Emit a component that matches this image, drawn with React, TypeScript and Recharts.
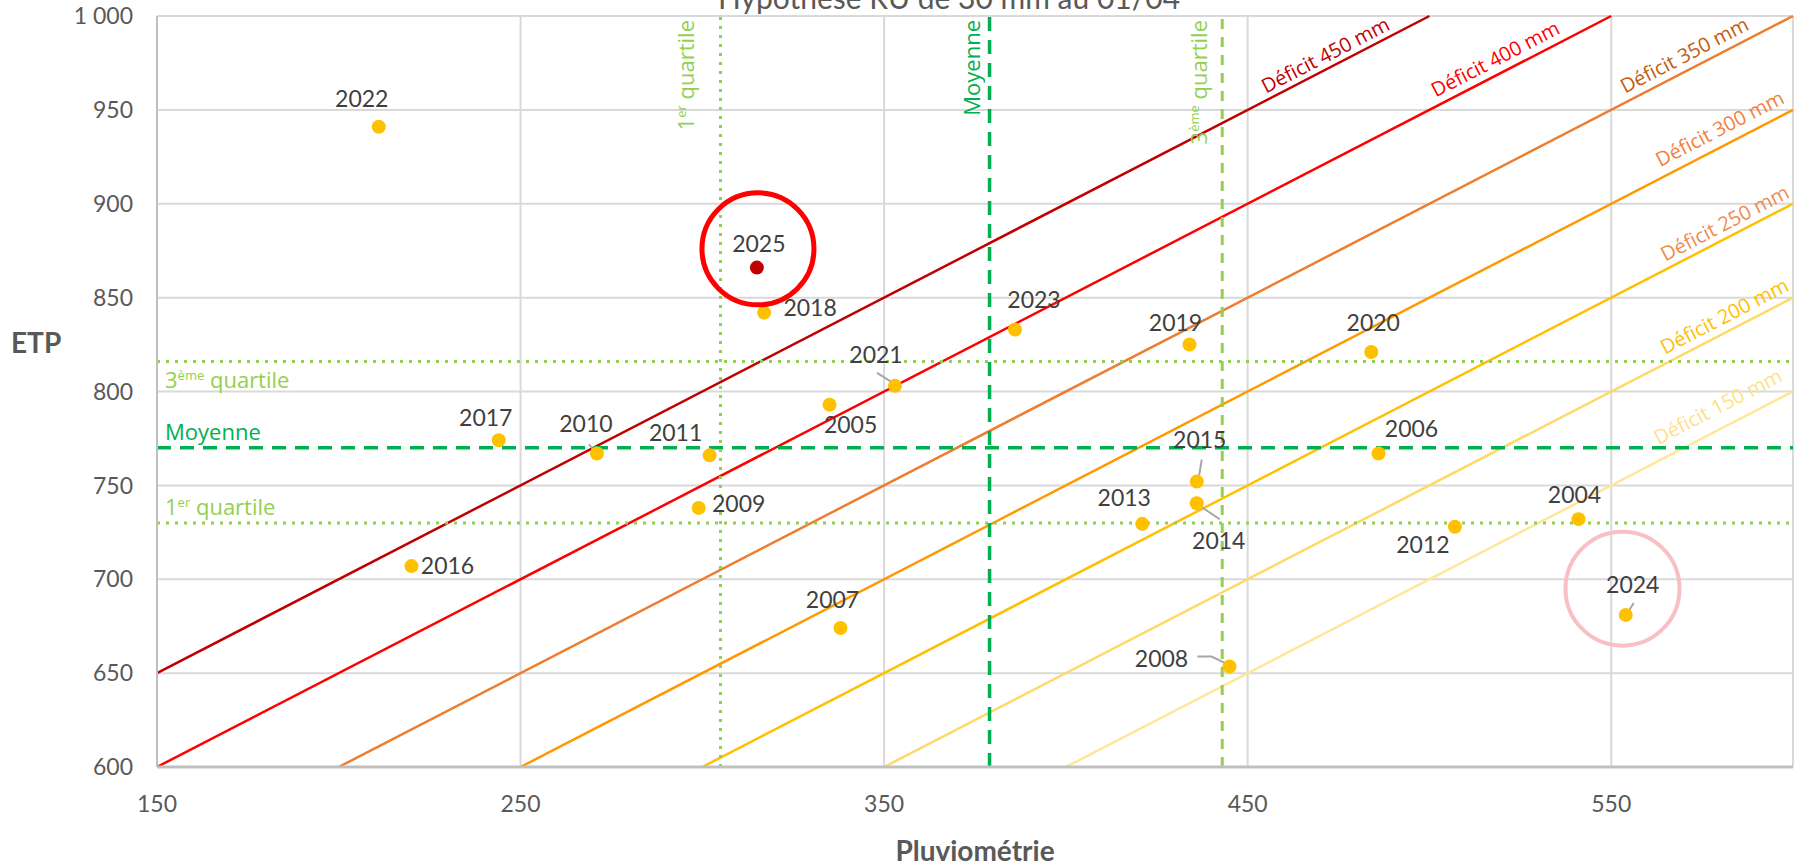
import React from "react";
import {
  CartesianGrid,
  ReferenceDot,
  ReferenceLine,
  Scatter,
  ScatterChart,
  XAxis,
  YAxis,
} from "recharts";

// années, pluviométrie (mm) et ETP (mm)
const years = [
  2004, 2005, 2006, 2007, 2008, 2009, 2010, 2011, 2012, 2013, 2014,
  2015, 2016, 2017, 2018, 2019, 2020, 2021, 2022, 2023, 2024, 2025,
];
const pluvio = [
  541, 335, 486, 338, 445, 299, 271, 302, 507, 421, 436,
  436, 220, 244, 317, 434, 484, 353, 211, 386, 554, 315,
];
const etp = [
  732, 793, 767, 674, 653.5, 738, 767, 766, 728, 729.5, 740.5,
  752, 707, 774, 842, 825, 821, 803, 941, 833, 681, 866,
];

const xTicks = [150, 250, 350, 450, 550];
const yTicks = [600, 650, 700, 750, 800, 850, 900, 950, 1000];
const xDomain = [150, 600];
const yDomain = [600, 1000];

// droites d'iso-déficit : ETP = P + déficit + 50
const deficits = [450, 400, 350, 300, 250, 200, 150];
const deficitShift = 50;
const deficitLabelAt = [473, 520, 572, 582, 583, 583, 582];

// quartiles / moyenne
const pluvioStats = [305, 379, 443]; // 1er quartile, moyenne, 3ème quartile
const etpStats = [730, 770, 816];

// années mises en évidence
const highlight = [
  { x: 315.3, y: 876 },
  { x: 553.1, y: 695 },
];

// ---------- styles / layout ----------
const W = 1798;
const H = 868;
const MARGIN = { top: 16, right: 5, bottom: 0, left: 0 };
const Y_AXIS_W = 157;
const X_AXIS_H = 101;
const PLOT_W = W - MARGIN.left - MARGIN.right - Y_AXIS_W;
const PLOT_H = H - MARGIN.top - MARGIN.bottom - X_AXIS_H;
const SLOPE_DEG =
  (Math.atan(
    (PLOT_H / (yDomain[1] - yDomain[0])) / (PLOT_W / (xDomain[1] - xDomain[0]))
  ) *
    180) /
  Math.PI;

const FONT = "Lato, 'Open Sans', sans-serif";
const FONT2 = "'Open Sans', Lato, sans-serif";

const deficitStroke = ["#C00000", "#FF0000", "#ED7D31", "#FF9900", "#FFC000", "#FFD966", "#FFE699"];
const deficitText = ["#C00000", "#FF0000", "#C55A11", "#F4803C", "#F08A50", "#FFC000", "#FFE08A"];
const deficitGap = [6, 8, 8, 10, 7, 8, 14];

const LIGHT_GREEN = "#92D050";
const GREEN = "#00B050";

// position of each year label relative to its dot (px), optional leader polyline
const labelPos: Record<number, { dx: number; dy: number; leader?: number[][] }> = {
  2004: { dx: -4, dy: -24 },
  2005: { dx: 21, dy: 20 },
  2006: { dx: 33, dy: -25 },
  2007: { dx: -8, dy: -28 },
  2008: { dx: -68, dy: -8, leader: [[-32, -10], [-18, -10], [-1, -2]] },
  2009: { dx: 40, dy: -4 },
  2010: { dx: -11, dy: -30, leader: [[-8, -9], [-2, -2]] },
  2011: { dx: -34, dy: -23 },
  2012: { dx: -32, dy: 18 },
  2013: { dx: -18, dy: -26 },
  2014: { dx: 22, dy: 38, leader: [[2, 2], [23, 16]] },
  2015: { dx: 3, dy: -42, leader: [[5, -22], [2, -4]] },
  2016: { dx: 36, dy: 0 },
  2017: { dx: -13, dy: -23 },
  2018: { dx: 46, dy: -5 },
  2019: { dx: -14, dy: -22 },
  2020: { dx: 2, dy: -29 },
  2021: { dx: -19, dy: -31, leader: [[-18, -13], [-2, -3]] },
  2022: { dx: -17, dy: -28 },
  2023: { dx: 19, dy: -30 },
  2024: { dx: 7, dy: -30, leader: [[8, -12], [1, -1]] },
  2025: { dx: 2, dy: -24 },
};

const points = years.map((year, i) => ({ year, x: pluvio[i], y: etp[i] }));

const deficitSegments = deficits.map((d) => {
  const k = d + deficitShift;
  const x0 = Math.max(xDomain[0], yDomain[0] - k);
  const x1 = Math.min(xDomain[1], yDomain[1] - k);
  return [
    { x: x0, y: x0 + k },
    { x: x1, y: x1 + k },
  ];
});

const deficitLabels = deficits.map((d, i) => ({
  x: deficitLabelAt[i],
  y: deficitLabelAt[i] + d + deficitShift,
  text: `Déficit ${d} mm`,
  color: deficitText[i],
  gap: deficitGap[i],
}));

function YearDot(props: any) {
  const { cx, cy, payload } = props;
  if (cx == null || cy == null) return null;
  const pos = labelPos[payload.year] || { dx: 0, dy: -24 };
  const fill = payload.year === 2025 ? "#C00000" : "#FFC000";
  return (
    <g>
      {pos.leader ? (
        <polyline
          points={pos.leader.map(([a, b]) => `${cx + a},${cy + b}`).join(" ")}
          fill="none"
          stroke="#A6A6A6"
          strokeWidth={2}
        />
      ) : null}
      <circle cx={cx} cy={cy} r={7} fill={fill} />
      <text
        x={cx + pos.dx}
        y={cy + pos.dy}
        dy="0.36em"
        textAnchor="middle"
        fill="#404040"
        fontSize={23}
        fontFamily={FONT}
      >
        {payload.year}
      </text>
    </g>
  );
}

function DeficitLabel(props: any) {
  const { cx, cy, payload } = props;
  if (cx == null || cy == null) return null;
  return (
    <text
      transform={`translate(${cx},${cy}) rotate(${-SLOPE_DEG})`}
      y={-payload.gap}
      textAnchor="middle"
      fill={payload.color}
      fontSize={20}
      fontFamily={FONT2}
    >
      {payload.text}
    </text>
  );
}

function Quart({ n, sup, rest }: { n: string; sup?: string; rest: string }) {
  return (
    <>
      <tspan>{n}</tspan>
      {sup ? (
        <>
          <tspan fontSize={13} dy={-8}>
            {sup}
          </tspan>
          <tspan dy={8}>{rest}</tspan>
        </>
      ) : (
        <tspan>{rest}</tspan>
      )}
    </>
  );
}

const hLabel = (content: React.ReactNode, color: string, dy: number) => (p: any) => {
  const vb = p.viewBox || {};
  return (
    <text x={vb.x + 8} y={vb.y + dy} fill={color} fontSize={22} fontFamily={FONT2}>
      {content}
    </text>
  );
};

const vLabel = (content: React.ReactNode, color: string, dx: number) => (p: any) => {
  const vb = p.viewBox || {};
  const x = vb.x - dx;
  const y = vb.y + 4;
  return (
    <text
      transform={`translate(${x},${y}) rotate(-90)`}
      textAnchor="end"
      fill={color}
      fontSize={22}
      fontFamily={FONT2}
    >
      {content}
    </text>
  );
};

export default function App() {
  return (
    <div style={{ position: "absolute", top: 0, left: 0, width: W, height: H, background: "#fff" }}>
      <ScatterChart width={W} height={H} margin={MARGIN}>
        <CartesianGrid stroke="#D9D9D9" strokeWidth={2} />
        <XAxis
          type="number"
          dataKey="x"
          domain={xDomain}
          ticks={xTicks}
          allowDataOverflow
          height={X_AXIS_H}
          axisLine={{ stroke: "#BFBFBF", strokeWidth: 3 }}
          tickLine={false}
          tickMargin={23}
          tick={{ fill: "#595959", fontSize: 23, fontFamily: FONT }}
        />
        <YAxis
          type="number"
          dataKey="y"
          domain={yDomain}
          ticks={yTicks}
          allowDataOverflow
          width={Y_AXIS_W}
          axisLine={{ stroke: "#BFBFBF", strokeWidth: 2 }}
          tickLine={false}
          tickMargin={18}
          tickFormatter={(v: number) => (v >= 1000 ? "1 000" : String(v))}
          tick={{ fill: "#595959", fontSize: 23, fontFamily: FONT }}
        />

        {deficitSegments.map((seg, i) => (
          <ReferenceLine
            key={`def-${deficits[i]}`}
            segment={seg}
            stroke={deficitStroke[i]}
            strokeWidth={2.5}
            ifOverflow="visible"
          />
        ))}

        <ReferenceLine
          y={etpStats[2]}
          stroke={LIGHT_GREEN}
          strokeWidth={3}
          strokeDasharray="3 6"
          label={hLabel(<Quart n="3" sup="ème" rest=" quartile" />, LIGHT_GREEN, 27)}
        />
        <ReferenceLine
          y={etpStats[1]}
          stroke={GREEN}
          strokeWidth={3.5}
          strokeDasharray="14 9"
          label={hLabel("Moyenne", GREEN, -8)}
        />
        <ReferenceLine
          y={etpStats[0]}
          stroke={LIGHT_GREEN}
          strokeWidth={3}
          strokeDasharray="3 6"
          label={hLabel(<Quart n="1" sup="er" rest=" quartile" />, LIGHT_GREEN, -8)}
        />
        <ReferenceLine
          x={pluvioStats[0]}
          stroke={LIGHT_GREEN}
          strokeWidth={3}
          strokeDasharray="3 6"
          label={vLabel(<Quart n="1" sup="er" rest=" quartile" />, LIGHT_GREEN, 27)}
        />
        <ReferenceLine
          x={pluvioStats[1]}
          stroke={GREEN}
          strokeWidth={3.5}
          strokeDasharray="14 9"
          label={vLabel("Moyenne", GREEN, 10)}
        />
        <ReferenceLine
          x={pluvioStats[2]}
          stroke={LIGHT_GREEN}
          strokeWidth={3}
          strokeDasharray="10 8"
          label={vLabel(<Quart n="3" sup="ème" rest=" quartile" />, LIGHT_GREEN, 15)}
        />

        <Scatter
          data={deficitLabels}
          shape={<DeficitLabel />}
          isAnimationActive={false}
        />
        <Scatter data={points} shape={<YearDot />} isAnimationActive={false} />

        <ReferenceDot
          x={highlight[0].x}
          y={highlight[0].y}
          r={56}
          fill="none"
          stroke="#FF0000"
          strokeWidth={5}
        />
        <ReferenceDot
          x={highlight[1].x}
          y={highlight[1].y}
          r={57}
          fill="none"
          stroke="#F8C0C4"
          strokeWidth={4}
        />
      </ScatterChart>

      <svg
        width={W}
        height={H}
        style={{ position: "absolute", top: 0, left: 0, pointerEvents: "none" }}
      >
        <text x={949} y={9} textAnchor="middle" fill="#595959" fontSize={30} fontFamily={FONT}>
          Hypothèse RU de 30 mm au 01/04
        </text>
        <text x={11} y={353} fill="#595959" fontSize={28} fontWeight="bold" fontFamily={FONT}>
          ETP
        </text>
        <text
          x={MARGIN.left + Y_AXIS_W + PLOT_W / 2}
          y={861}
          textAnchor="middle"
          fill="#595959"
          fontSize={28}
          fontWeight="bold"
          fontFamily={FONT}
        >
          Pluviométrie
        </text>
      </svg>
    </div>
  );
}
